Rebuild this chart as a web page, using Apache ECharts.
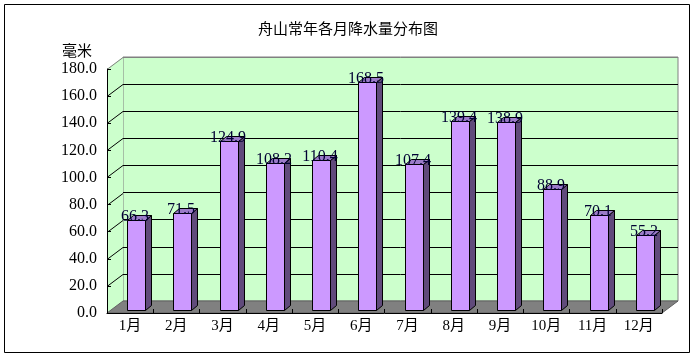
<!DOCTYPE html>
<html>
<head>
<meta charset="utf-8">
<script src="https://cdn.jsdelivr.net/npm/echarts@6/dist/echarts.min.js"></script>
<style>html,body{margin:0;padding:0;background:#fff;}#c{width:696px;height:360px;}</style>
</head>
<body>
<div id="c"></div>
<script>
// ---- data ----
const titleText = '舟山常年各月降水量分布图';
const unitText = '毫米';
const categories = ['1月','2月','3月','4月','5月','6月','7月','8月','9月','10月','11月','12月'];
const rainfall = [66.3, 71.5, 124.9, 108.2, 110.4, 168.5, 107.4, 139.4, 138.9, 88.9, 70.1, 55.2];
const yMin = 0, yMax = 180, yStep = 20;

// ---- layout ----
const F = {left: 107, top: 69, w: 555, h: 244};   // front plane
const D = {dx: 16, dy: -12};                        // depth offset of back wall
const BAR = {dx: 6, dy: -3, hw: 9, sx: 6, sy: 5};
const NUM_FONT = "'Liberation Serif', 'Noto Sans CJK SC', serif";

const chart = echarts.init(document.getElementById('c'), null, {renderer: 'canvas'});

function yPix(v) { return F.top + F.h - (v - yMin) / (yMax - yMin) * F.h; }

const graphics = [];
// outer border
graphics.push({type: 'rect', shape: {x: 4.5, y: 4.5, width: 685, height: 348}, style: {fill: 'none', stroke: '#000', lineWidth: 1}, z: 0});
// left side wall
graphics.push({type: 'polygon', shape: {points: [[F.left, F.top], [F.left + D.dx, F.top + D.dy], [F.left + D.dx, F.top + F.h + D.dy], [F.left, F.top + F.h]]},
  style: {fill: '#CCFFCC', stroke: null}, z: 1});
graphics.push({type: 'line', shape: {x1: F.left, y1: F.top + 0.5, x2: F.left + D.dx, y2: F.top + D.dy + 0.5}, style: {stroke: '#808080', lineWidth: 1}, z: 1});
for (let v = yMin + yStep; v < yMax; v += yStep) {
  const y = Math.round(yPix(v)) + 0.5;
  graphics.push({type: 'line', shape: {x1: F.left, y1: y, x2: F.left + D.dx, y2: y + D.dy}, style: {stroke: '#000', lineWidth: 1}, z: 1});
}
// floor
graphics.push({type: 'polygon', shape: {points: [[F.left, F.top + F.h], [F.left + D.dx, F.top + F.h + D.dy], [F.left + F.w + D.dx, F.top + F.h + D.dy], [F.left + F.w, F.top + F.h]]},
  style: {fill: '#808080', stroke: '#606060', lineWidth: 1}, z: 1});
// unit label
graphics.push({type: 'text', x: 77, y: 50, style: {text: unitText, font: "15px 'Noto Sans CJK SC'", fill: '#000', align: 'center', verticalAlign: 'middle'}, z: 5});

const splitColors = [];
for (let v = yMin; v <= yMax; v += yStep) splitColors.push((v === yMin || v === yMax) ? '#808080' : '#000');

const option = {
  backgroundColor: '#fff',
  animation: false,
  title: {text: titleText, left: 'center', top: 16,
    textStyle: {fontFamily: 'Noto Sans CJK SC', fontSize: 15, fontWeight: 'normal', color: '#000'}},
  graphic: graphics,
  grid: [
    {left: F.left, top: F.top, width: F.w, height: F.h, containLabel: false},
    {left: F.left + D.dx, top: F.top + D.dy, width: F.w, height: F.h, show: true,
      backgroundColor: '#CCFFCC', borderColor: '#808080', borderWidth: 1, containLabel: false}
  ],
  xAxis: [
    {type: 'category', gridIndex: 0, data: categories, z: 5,
      axisLine: {show: true, lineStyle: {color: '#000', width: 1}},
      axisTick: {show: true, inside: true, length: 4, lineStyle: {color: '#000'}},
      axisLabel: {margin: 6, fontFamily: NUM_FONT, fontSize: 15, color: '#000'},
      splitLine: {show: false}},
    {type: 'category', gridIndex: 1, data: categories, show: false}
  ],
  yAxis: [
    {type: 'value', gridIndex: 0, min: yMin, max: yMax, interval: yStep, z: 5,
      axisLine: {show: true, lineStyle: {color: '#000', width: 1}},
      axisTick: {show: true, inside: true, length: 4, lineStyle: {color: '#000'}},
      axisLabel: {margin: 10, fontFamily: NUM_FONT, fontSize: 16, color: '#000', padding: [4, 0, 0, 0], formatter: v => v.toFixed(1)},
      splitLine: {show: false}},
    {type: 'value', gridIndex: 1, min: yMin, max: yMax, interval: yStep, z: 0,
      axisLine: {show: false}, axisTick: {show: false}, axisLabel: {show: false},
      splitLine: {show: true, lineStyle: {color: splitColors, width: 1}}}
  ],
  series: [{
    type: 'custom', xAxisIndex: 0, yAxisIndex: 0, z: 3,
    data: rainfall.map((v, i) => [i, v]),
    encode: {x: 0, y: 1},
    renderItem: function (params, api) {
      const i = api.value(0), v = api.value(1);
      const base = api.coord([i, 0]);
      const top = api.coord([i, v]);
      const cx = Math.round(base[0] + BAR.dx);
      const by = Math.round(base[1] + BAR.dy) + 0.5;
      const ty = Math.round(top[1] + BAR.dy) + 0.5;
      const l = cx - BAR.hw + 0.5, r = cx + BAR.hw + 0.5;
      const stroke = {stroke: '#000', lineWidth: 1};
      return {
        type: 'group',
        children: [
          {type: 'polygon', shape: {points: [[r, ty], [r + BAR.sx, ty - BAR.sy], [r + BAR.sx, by - BAR.sy], [r, by]]},
            style: Object.assign({fill: '#604A7B'}, stroke)},
          {type: 'polygon', shape: {points: [[l, ty], [l + BAR.sx, ty - BAR.sy], [r + BAR.sx, ty - BAR.sy], [r, ty]]},
            style: Object.assign({fill: '#9B7BC8'}, stroke)},
          {type: 'rect', shape: {x: l, y: ty, width: r - l, height: by - ty},
            style: Object.assign({fill: '#CC99FF'}, stroke)},
          {type: 'text', x: cx - 1, y: ty - 4,
            style: {text: v.toFixed(1), font: "16px 'Liberation Serif', serif", fill: '#000033', align: 'center', verticalAlign: 'middle'}}
        ]
      };
    }
  }]
};
chart.setOption(option);
</script>
</body>
</html>
